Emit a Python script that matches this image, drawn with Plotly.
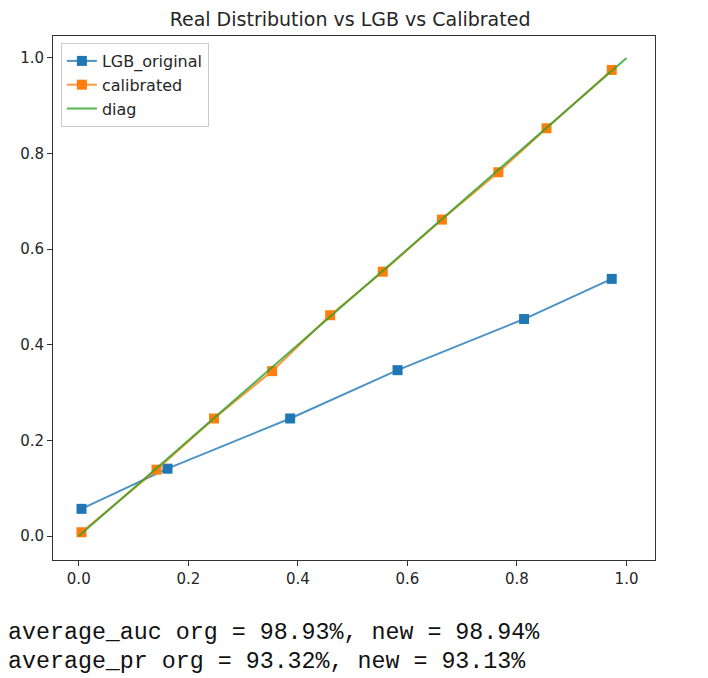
import plotly.graph_objects as go

# Data
lgb_x = [0.005, 0.162, 0.386, 0.582, 0.813, 0.973]
lgb_y = [0.057, 0.141, 0.246, 0.347, 0.454, 0.538]
cal_x = [0.005, 0.142, 0.247, 0.353, 0.459, 0.555, 0.663, 0.766, 0.854, 0.973]
cal_y = [0.008, 0.139, 0.246, 0.345, 0.462, 0.553, 0.662, 0.761, 0.853, 0.975]
diag_x = [0.0, 1.0]
diag_y = [0.0, 1.0]
tick_vals = [0.0, 0.2, 0.4, 0.6, 0.8, 1.0]
tick_text = ["0.0", "0.2", "0.4", "0.6", "0.8", "1.0"]
title = "Real Distribution vs LGB vs Calibrated"
text_lines = [
    "average_auc org = 98.93%, new = 98.94%",
    "average_pr org = 93.32%, new = 93.13%",
]

# page body has an 8px margin; figure coordinates are offset by it
OFF = 8
W, H = 700, 670
L, R, T, B = 45 - OFF, 53, 36 - OFF, 118
PW, PH = W - L - R, H - T - B

fig = go.Figure()
fig.add_trace(go.Scatter(
    x=lgb_x, y=lgb_y, mode="lines+markers", name="LGB_original",
    line=dict(color="rgba(31,119,180,0.8)", width=2),
    marker=dict(symbol="square", size=10, color="#1f77b4"),
))
fig.add_trace(go.Scatter(
    x=cal_x, y=cal_y, mode="lines+markers", name="calibrated",
    line=dict(color="rgba(255,127,14,0.8)", width=2),
    marker=dict(symbol="square", size=10, color="#ff7f0e"),
))
fig.add_trace(go.Scatter(
    x=diag_x, y=diag_y, mode="lines", name="diag",
    line=dict(color="rgba(44,160,44,0.8)", width=2),
))

axis_common = dict(
    showgrid=False, zeroline=False, showline=True, mirror=True,
    linecolor="#333333", linewidth=1, ticks="outside", ticklen=5,
    tickcolor="#333333", tickvals=tick_vals, ticktext=tick_text,
    tickfont=dict(family="DejaVu Sans", size=15, color="#262626"),
)

fig.update_xaxes(range=[-0.047, 1.052], **axis_common)
fig.update_yaxes(range=[-0.05, 1.046], **axis_common)

annotations = []
for i, line in enumerate(text_lines):
    annotations.append(dict(
        text=line, xref="paper", yref="paper",
        x=(-3 - OFF - L) / PW,
        y=1 - (633 + i * 29 - OFF - T) / PH,
        xanchor="left", yanchor="middle", showarrow=False,
        font=dict(family="Liberation Mono, Courier New, monospace", size=23.3, color="#111111"),
    ))

fig.update_layout(
    width=W, height=H,
    margin=dict(l=L, r=R, t=T, b=B),
    paper_bgcolor="white", plot_bgcolor="white",
    title=dict(text=title, x=(346 - OFF - L) / PW, xref="paper", xanchor="center",
               y=1 - (19 - OFF) / H, yanchor="middle",
               font=dict(family="DejaVu Sans", size=19, color="#262626")),
    legend=dict(x=(53 - OFF - L) / PW, y=1 - (43 - OFF - T) / PH, xanchor="left", yanchor="top",
                bgcolor="rgba(255,255,255,0.8)", bordercolor="#cccccc", borderwidth=1,
                font=dict(family="DejaVu Sans", size=16, color="#262626")),
    annotations=annotations,
    showlegend=True,
)

fig.write_html("out.html")
